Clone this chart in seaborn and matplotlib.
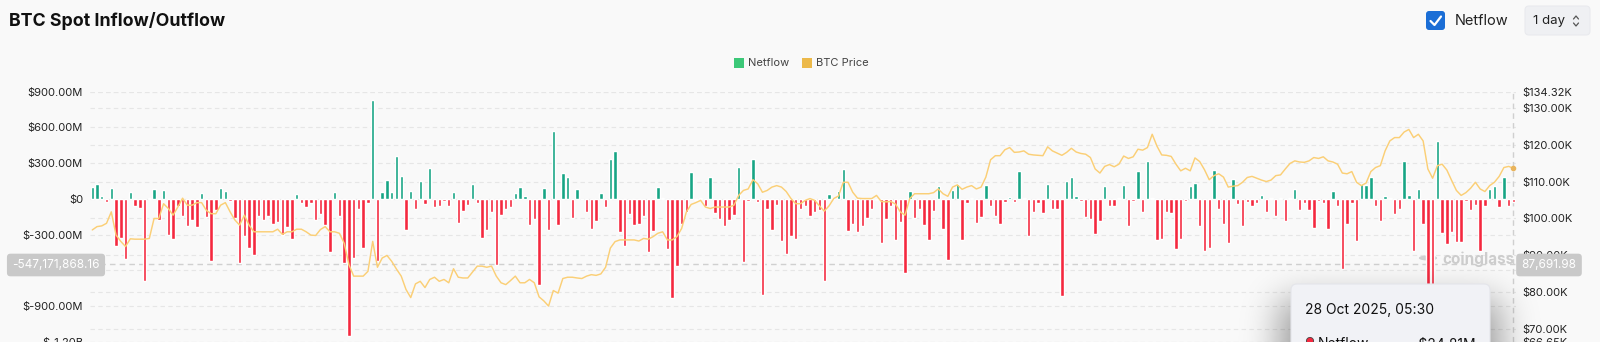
import math
import numpy as np
import pandas as pd
import matplotlib
matplotlib.use("Agg")
import matplotlib.pyplot as plt
import seaborn as sns
from matplotlib.patches import FancyBboxPatch, Rectangle, Circle
from matplotlib.lines import Line2D
from matplotlib.ticker import FuncFormatter, FixedLocator

# Daily BTC spot netflow (USD millions) and BTC price (USD thousands)
netflow_musd = [
    103, 125, 20, -28, 89, -398, -328, -509, 61, -56,
    -78, -690, 11, 81, -175, 72, -300, -336, -64, -142,
    -225, -175, -236, 47, -153, -523, -97, 95, 67, -17,
    -161, -537, -314, -411, -473, -147, -175, -147, -208, -197,
    -306, -236, -334, 39, -39, -67, -36, -175, -125, -217,
    -448, 61, -147, -537, -1148, -500, -86, -417, -39, 831,
    -523, 61, 156, 61, 359, 195, -259, 67, -83, 153,
    -42, 256, -67, -64, -22, -64, 56, -206, -106, -50,
    122, -36, -328, -259, -111, -556, -133, -86, -72, 53,
    103, 20, -217, -170, -726, 95, -259, 570, -222, 220,
    183, -161, 81, -5, -114, -250, -189, 53, -72, 331,
    406, -278, -392, -128, -217, -208, -142, -448, -272, 103,
    11, -425, -834, -564, -211, -114, 228, -11, 6, -56,
    181, -120, -167, -231, -175, -133, 270, -528, -22, 334,
    -28, -809, -86, -259, -50, -356, -467, -314, -336, -86,
    -58, -147, -114, -92, -690, 42, 6, 67, 250, -272,
    -211, -278, -231, -161, -83, -11, -370, -167, -58, -342,
    -195, -620, 67, -161, -83, -217, -345, -100, 108, -253,
    -517, 72, 122, -342, -36, 6, -203, -150, 117, -64,
    -142, -208, -28, 14, -28, 234, 6, -314, -111, -31,
    -120, 122, -83, -86, -815, 153, 183, 25, -22, -153,
    -170, -292, -189, 111, -56, -56, 6, 117, -231, -22,
    234, -111, 317, 6, -348, -334, -114, -120, -420, -334,
    -14, 108, 131, -231, -434, -417, 239, -83, -211, -370,
    167, -42, -225, -28, -56, -31, 33, -114, 3, -142,
    3, -183, 6, 86, -92, -39, -97, -245, -22, -36,
    -250, 67, -64, -587, -211, -31, -356, 122, 117, 181,
    -56, -189, 20, 3, -128, -86, 320, 33, -439, 81,
    -211, -800, -850, 484, -286, -378, -278, -364, -364, -14,
    -92, -50, -434, -64, 81, 108, -72, 186, -58, -24.81,
]

btc_price_k = [
    96.9, 97.8, 98.0, 98.7, 101.8, 95.5, 93.8, 92.4, 94.5, 94.4,
    94.4, 94.4, 94.6, 100.0, 100.0, 104.0, 102.7, 100.9, 103.1, 105.5,
    103.6, 103.6, 104.3, 104.3, 102.2, 101.3, 101.3, 103.6, 104.3, 101.8,
    99.6, 98.2, 100.9, 98.2, 96.4, 96.4, 96.4, 96.4, 96.4, 97.1,
    95.7, 96.4, 96.4, 97.1, 97.1, 96.4, 95.5, 95.4, 97.0, 97.8,
    96.4, 96.4, 96.0, 93.3, 87.5, 84.4, 84.4, 84.4, 85.7, 93.8,
    86.8, 89.3, 90.0, 88.4, 86.3, 84.4, 80.8, 78.6, 82.3, 83.0,
    81.3, 83.5, 84.1, 83.0, 83.5, 82.6, 86.4, 84.1, 83.9, 83.9,
    85.5, 87.1, 87.1, 86.8, 87.1, 84.4, 82.6, 82.1, 83.2, 84.4,
    82.6, 82.6, 83.5, 82.6, 78.8, 77.7, 76.3, 80.5, 79.8, 83.75,
    84.1, 84.1, 83.9, 83.75, 84.4, 84.8, 84.6, 85.0, 86.8, 92.0,
    93.75, 94.2, 94.2, 94.2, 94.2, 93.9, 94.6, 94.4, 95.1, 96.0,
    96.4, 94.2, 94.2, 95.1, 97.3, 101.8, 103.8, 104.3, 104.9, 103.1,
    102.7, 103.1, 103.1, 103.1, 103.1, 103.6, 106.25, 107.6, 108.0, 110.5,
    109.4, 107.1, 107.6, 108.5, 108.9, 108.5, 107.3, 105.4, 104.0, 104.0,
    104.9, 105.4, 104.9, 103.4, 102.0, 103.4, 105.4, 106.1, 109.8, 109.8,
    107.1, 105.5, 105.4, 105.4, 105.4, 106.25, 104.6, 104.5, 104.6, 103.9,
    101.8, 100.9, 105.4, 106.7, 106.7, 106.7, 106.7, 107.0, 108.0, 106.7,
    106.0, 108.5, 109.1, 107.9, 108.5, 108.9, 108.0, 108.5, 111.2, 115.9,
    117.0, 117.0, 118.6, 119.2, 117.9, 118.0, 118.3, 117.4, 117.2, 117.1,
    117.0, 119.4, 118.3, 117.7, 117.1, 117.9, 119.0, 118.0, 117.6, 117.4,
    116.5, 113.4, 112.3, 114.1, 114.6, 114.0, 114.7, 116.9, 116.25, 116.7,
    118.75, 118.5, 119.2, 122.8, 119.6, 117.2, 117.1, 116.8, 114.7, 112.9,
    113.6, 112.9, 116.4, 115.4, 113.2, 110.5, 111.6, 112.1, 111.2, 108.5,
    108.75, 108.9, 109.8, 111.1, 111.4, 110.9, 110.4, 110.0, 110.4, 111.6,
    111.8, 113.4, 114.9, 115.6, 115.3, 115.2, 115.6, 116.5, 116.25, 116.7,
    115.6, 115.3, 114.7, 112.3, 112.1, 112.7, 109.8, 108.9, 109.6, 112.7,
    113.8, 114.3, 118.3, 121.0, 121.9, 121.9, 123.4, 124.1, 121.9, 122.8,
    121.0, 113.4, 110.9, 114.3, 114.7, 113.1, 110.3, 107.6, 106.25, 107.0,
    108.2, 109.8, 108.0, 107.3, 108.9, 109.8, 111.4, 113.8, 114.1, 113.6,
]

left_ticks_musd = [900, 600, 300, 0, -300, -600, -900, -1200]
right_ticks_k = [134.32, 130, 120, 110, 100, 90, 80, 70, 66.65]
cursor_netflow = -547171868.16
cursor_price = 87691.98
tooltip_date = "28 Oct 2025, 05:30"
tooltip_value = "-$24.81M"

dates = pd.date_range(end="2025-10-28", periods=len(netflow_musd), freq="D")
df = pd.DataFrame({
    "day": np.arange(len(netflow_musd)),
    "date": dates,
    "netflow": np.array(netflow_musd) * 1e6,
    "price": btc_price_k,
})
df["side"] = np.where(df["netflow"] >= 0, "in", "out")

BG = "#f9f9f9"
GREEN = "#17a585"
RED = "#f5283f"
LINE = "#fbcf76"
GRID = "#e6e6e6"
W, H = 1600, 342

sns.set_theme(style="white")
plt.rcParams["font.family"] = ["Inter", "DejaVu Sans"]
plt.rcParams["axes.facecolor"] = BG
plt.rcParams["figure.facecolor"] = BG

fig = plt.figure(figsize=(W / 100, H / 100), dpi=100)


def fx(x):
    return x / W


def fy(y):
    return 1 - y / H


left_px, right_px, top_px, bot_px = 89.9, 1515.8, 91.7, 341.7
ax = fig.add_axes([fx(left_px), fy(bot_px), fx(right_px - left_px), (bot_px - top_px) / H])
ax.set_facecolor(BG)

sns.barplot(data=df, x="day", y="netflow", hue="side", hue_order=["in", "out"],
            palette={"in": GREEN, "out": RED}, dodge=False, width=0.72,
            saturation=1, errorbar=None, legend=False, ax=ax, zorder=2)

lo, hi = -1.2e9, 9e8
plo, phi = 66.65, 134.32
ax.set_xlim(-0.5, len(df) - 0.5)
ax.set_ylim(lo, hi)

# dashed grid for both value scales
for v in left_ticks_musd:
    ax.axhline(v * 1e6, color=GRID, lw=0.8, ls=(0, (4, 3)), zorder=0)
for v in right_ticks_k:
    ax.axhline(lo + (v - plo) / (phi - plo) * (hi - lo), color=GRID, lw=0.8,
               ls=(0, (4, 3)), zorder=0)

ax.yaxis.set_major_locator(FixedLocator([v * 1e6 for v in left_ticks_musd]))


def fmt_left(v, _):
    if v == 0:
        return "$0"
    if abs(v) >= 1e9:
        return f"${v / 1e9:.2f}B"
    return f"${v / 1e6:.2f}M"


ax.yaxis.set_major_formatter(FuncFormatter(fmt_left))
ax.set_xticks([])
ax.set_xlabel("")
ax.set_ylabel("")
ax.tick_params(axis="y", length=0, pad=5, labelsize=8, labelcolor="#222222")
for s in ax.spines.values():
    s.set_visible(False)

ax2 = ax.twinx()
sns.lineplot(data=df, x="day", y="price", ax=ax2, color=LINE, lw=1.05, zorder=3)
ax2.plot(df["day"].iloc[-1], df["price"].iloc[-1], "o", ms=3, color="#e9b45c", zorder=4)
ax2.set_ylim(plo, phi)
ax2.set_xlim(-0.5, len(df) - 0.5)
ax2.yaxis.set_major_locator(FixedLocator(right_ticks_k))
ax2.yaxis.set_major_formatter(FuncFormatter(lambda v, _: f"${v:.2f}K"))
ax2.tick_params(axis="y", length=0, pad=5, labelsize=8, labelcolor="#222222")
ax2.set_xlabel("")
ax2.set_ylabel("")
ax2.set_xticks([])
for s in ax2.spines.values():
    s.set_visible(False)

# crosshair at the hovered day
ax.axhline(cursor_netflow, color="#d0d0d0", lw=1, ls=(0, (4, 3)), zorder=1)
ax.axvline(len(df) - 1, color="#d0d0d0", lw=1, ls=(0, (4, 3)), zorder=1)

# watermark behind the bars
ax.text(fx(1442), fy(259), "coinglass", transform=fig.transFigure, fontsize=11,
        fontweight="bold", color="#cdcdcd", va="center", ha="left", zorder=0.5)
ax.add_patch(Circle((fx(1428), fy(258)), 0.0052, transform=fig.transFigure,
                    color="#d0d0d0", zorder=0.5))

# overlay in pixel coordinates for header, legend, labels and tooltip
ov = fig.add_axes([0, 0, 1, 1], zorder=5)
ov.set_xlim(0, W)
ov.set_ylim(H, 0)
ov.axis("off")
ov.patch.set_alpha(0)

ov.text(9, 21, "BTC Spot Inflow/Outflow", fontsize=12.8, fontweight="bold",
        color="#111111", va="center", ha="left")

# checkbox and interval selector
ov.add_patch(FancyBboxPatch((1426, 11), 19, 19, boxstyle="round,pad=0,rounding_size=3",
                            fc="#1b6ed6", ec="none"))
ov.add_line(Line2D([1430.5, 1434.5, 1441], [21, 25, 16.5], color="white", lw=1.6,
                   solid_capstyle="round", solid_joinstyle="round"))
ov.text(1455, 21, "Netflow", fontsize=10.5, color="#222222", va="center", ha="left")
ov.add_patch(FancyBboxPatch((1525, 6), 65, 29, boxstyle="round,pad=0,rounding_size=4",
                            fc="#eff0f3", ec="#e9eaee", lw=0.8))
ov.text(1533, 21, "1 day", fontsize=9.5, color="#222222", va="center", ha="left")
ov.add_line(Line2D([1573.5, 1576, 1578.5], [19, 16, 19], color="#555555", lw=0.9))
ov.add_line(Line2D([1573.5, 1576, 1578.5], [23, 26, 23], color="#555555", lw=0.9))

# legend
ov.add_patch(Rectangle((734, 58), 9.5, 9.5, fc="#3cc878", ec="none"))
ov.text(748, 63.5, "Netflow", fontsize=8, color="#444444", va="center", ha="left")
ov.add_patch(Rectangle((802, 58), 9.5, 9.5, fc="#ecb94a", ec="none"))
ov.text(816, 63.5, "BTC Price", fontsize=8, color="#444444", va="center", ha="left")

# crosshair value tags
ov.text(56, 265, f"{cursor_netflow:,.2f}", fontsize=8.5, color="white", va="center",
        ha="center", bbox=dict(boxstyle="round,pad=0.45,rounding_size=0.3",
                               fc="#c9c9c9", ec="none"))
ov.text(1549, 265, f"{cursor_price:,.2f}", fontsize=8.5, color="white", va="center",
        ha="center", bbox=dict(boxstyle="round,pad=0.45,rounding_size=0.3",
                               fc="#c9c9c9", ec="none"))

# tooltip with soft shadow
xs = np.arange(W) + 0.5
ys = np.arange(H) + 0.5
erf = np.vectorize(math.erf)


def soft(t, a, b, s):
    return 0.5 * (erf((t - a) / (s * math.sqrt(2))) - erf((t - b) / (s * math.sqrt(2))))


shadow = np.outer(soft(ys, 300, 480, 18), soft(xs, 1280, 1500, 18))
rgba = np.zeros((H, W, 4))
rgba[..., 3] = 0.38 * shadow
ov.imshow(rgba, extent=(0, W, H, 0), interpolation="bilinear", zorder=1)
ov.set_xlim(0, W)
ov.set_ylim(H, 0)

ov.add_patch(FancyBboxPatch((1291, 284), 199, 90, boxstyle="round,pad=0,rounding_size=6",
                            fc="#f1f2f6", ec="#e4e5ea", lw=0.8, zorder=2))
ov.text(1305, 310, tooltip_date, fontsize=10, color="#111111", va="center",
        ha="left", zorder=3)
ov.add_patch(Circle((1310, 341), 3.6, fc=RED, ec="#444444", lw=0.6, zorder=3))
ov.text(1318, 348, "Netflow", fontsize=10, color="#111111", va="baseline",
        ha="left", zorder=3)
ov.text(1476, 348, tooltip_value, fontsize=10, color="#111111", va="baseline",
        ha="right", zorder=3)

fig.savefig("out.png", dpi=100, facecolor=BG)
